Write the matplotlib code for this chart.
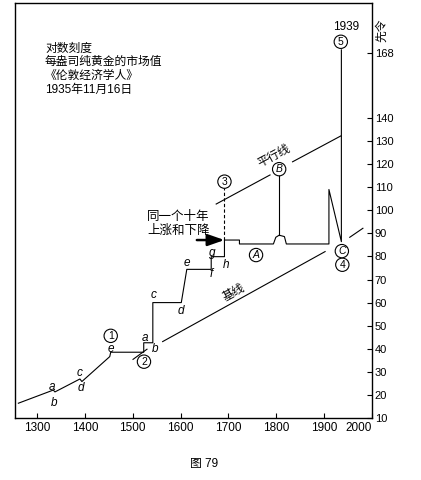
import matplotlib
matplotlib.use('Agg')
import matplotlib.pyplot as plt

plt.rcParams['font.family'] = ['Liberation Sans', 'Noto Sans CJK SC', 'DejaVu Sans']

# gold price, shillings per fine ounce
price_years = [1261, 1334, 1337.5, 1389.6, 1393.8, 1452, 1454, 1523, 1523, 1542, 1542,
               1601.5, 1613, 1664, 1664, 1691.7, 1691.7, 1723, 1723, 1794, 1799, 1806,
               1817, 1821, 1910, 1910, 1936, 1936]
price_vals = [16.4, 22.1, 21.3, 26.9, 25.8, 36.6, 38.5, 38.5, 42.6, 42.6, 60.0,
              60.0, 74.4, 74.4, 79.9, 79.9, 87.1, 87.1, 85.4, 85.4, 88.3, 89.2,
              88.6, 85.4, 85.4, 109.0, 86.4, 169.5]
# spike at B (around 1800)
spike_year = 1806
spike_low, spike_high = 89.2, 115.3

# base line (基线) segments and parallel line (平行线) segments
base_years = [[1500.6, 1529.8], [1562.5, 1902], [1953.5, 1981]]
base_vals = [[35.4, 39.8], [43.1, 82.1], [88.3, 92.2]]
par_years = [[1674.4, 1786.9], [1834, 1934.8]]
par_vals = [[102.7, 115.3], [121.0, 132.2]]

y_ticks = [10, 20, 30, 40, 50, 60, 70, 80, 90, 100, 110, 120, 130, 140, 168]
x_ticks = [1300, 1400, 1500, 1600, 1700, 1800, 1900, 2000]

fig = plt.figure(figsize=(4.21, 4.80), dpi=100)
ax = fig.add_axes([15 / 421, 1 - 418 / 480, (372 - 15) / 421, (418 - 3) / 480])
ax.set_xlim(1254, 2000)
ax.set_ylim(10, 189.8)

ax.plot(price_years, price_vals, color='black', lw=0.8)
ax.plot([spike_year, spike_year], [spike_low, spike_high], color='black', lw=0.8)
for xs, ys in zip(base_years, base_vals):
    ax.plot(xs, ys, color='black', lw=0.8)
for xs, ys in zip(par_years, par_vals):
    ax.plot(xs, ys, color='black', lw=0.8)

# dashed line at 3
ax.plot([1691.7, 1691.7], [87.1, 109.6], color='black', lw=0.8, ls=(0, (3, 2)))

# arrow
ax.annotate('', xy=(1691.7, 87.1), xytext=(1634, 87.1),
            arrowprops=dict(arrowstyle='-|>,head_length=1.0,head_width=0.35',
                            color='black', lw=1.8, shrinkA=0, shrinkB=0))

# axes styling
for s in ax.spines.values():
    s.set_linewidth(1.0)
ax.yaxis.tick_right()
ax.set_yticks(y_ticks)
ax.set_yticklabels([str(v) for v in y_ticks], fontsize=8)
ax.set_xticks(x_ticks)
ax.set_xticklabels([str(v) for v in x_ticks], fontsize=8.5)
ax.tick_params(axis='y', direction='in', length=3.5, width=0.8, pad=2)
ax.tick_params(axis='x', direction='in', length=3.5, width=0.8, pad=3)
ax.get_xticklabels()[-1].set_horizontalalignment('right')

# title block
title_lines = ['对数刻度', '每盎司纯黄金的市场值', '《伦敦经济学人》', '1935年11月16日']
title_y = [170.1, 164.2, 158.1, 152.2]
for t, yy in zip(title_lines, title_y):
    ax.text(1316.7, yy, t, fontsize=8.5, va='center', ha='left')

ax.text(1945, 179.5, '1939', fontsize=8.5, ha='center', va='center')
ax.text(2021, 178, '先令', fontsize=8.5, rotation=90, ha='center', va='center', clip_on=False)

ax.text(1595.8, 97.1, '同一个十年', fontsize=9, ha='center', va='center')
ax.text(1595.8, 91.2, '上涨和下降', fontsize=9, ha='center', va='center')
ax.text(1795.8, 123.5, '平行线', fontsize=8.5, ha='center', va='center', rotation=28)
ax.text(1712.5, 64.2, '基线', fontsize=8.5, ha='center', va='center', rotation=29)

# circled markers
circled = [('1', 1454, 45.6), ('2', 1523.5, 34.4), ('3', 1691.7, 112.4),
           ('4', 1938, 76.4), ('5', 1934.8, 173)]
for lab, xx, yy in circled:
    ax.text(xx, yy, lab, fontsize=7.5, ha='center', va='center',
            bbox=dict(boxstyle='circle,pad=0.16', fc='white', ec='black', lw=0.8))
circled_letters = [('A', 1757.7, 80.6), ('B', 1806, 117.8), ('C', 1937, 82.3)]
for lab, xx, yy in circled_letters:
    ax.text(xx, yy, lab, fontsize=7.5, ha='center', va='center', style='italic',
            bbox=dict(boxstyle='circle,pad=0.16', fc='white', ec='black', lw=0.8))

# small letters
letters = [('a', 1330.6, 23.6), ('b', 1335.4, 16.6), ('c', 1389.6, 29.6), ('d', 1391, 22.9),
           ('e', 1453.5, 40.0), ('a', 1525, 44.8), ('b', 1546.5, 39.8),
           ('c', 1543.8, 63.3), ('d', 1601.5, 56.5), ('e', 1613, 77.0), ('f', 1664, 72.4),
           ('g', 1666, 81.6), ('h', 1695, 76.3)]
for lab, xx, yy in letters:
    ax.text(xx, yy, lab, fontsize=8.5, ha='center', va='center', style='italic')

fig.text(204 / 421, 1 - 464 / 480, '图 79', fontsize=8.5, ha='center', va='center')

fig.savefig('out.png', dpi=100)
